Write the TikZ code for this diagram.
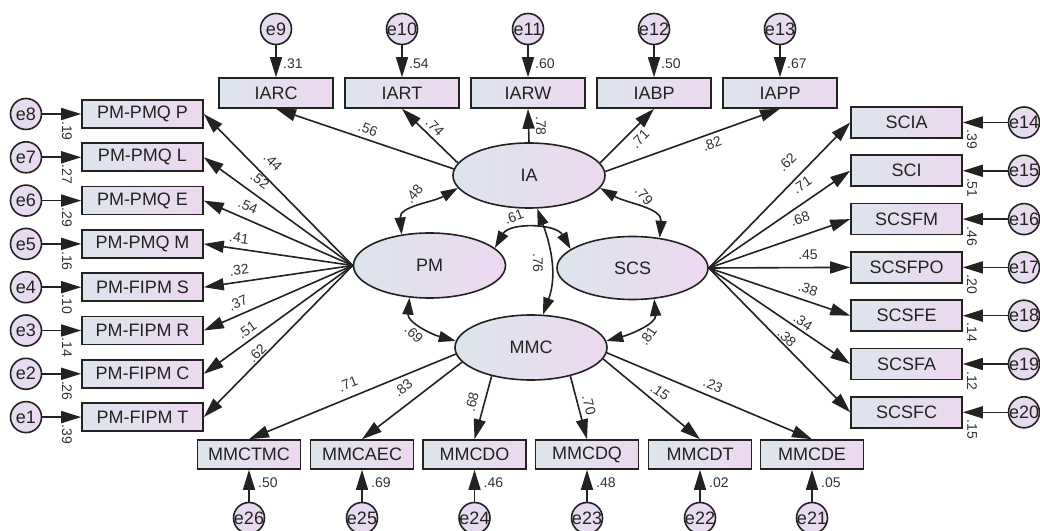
\documentclass[tikz,border=0pt]{standalone}
\usepackage{fontspec}
\setmainfont{Liberation Sans}
\usetikzlibrary{arrows.meta,shapes.geometric}

\definecolor{fillL}{HTML}{DDE5EC}
\definecolor{fillR}{HTML}{EDD8F0}
\definecolor{errL}{HTML}{E2DEEE}
\definecolor{errR}{HTML}{EDD8F1}
\definecolor{ink}{HTML}{222222}
\definecolor{numc}{HTML}{333333}

\tikzset{
  bigtext/.style={font=\fontsize{18}{21}\selectfont, text=ink},
  obs/.style={draw=ink, line width=1.6pt, left color=fillL, right color=fillR,
    inner sep=0pt, bigtext},
  obsT/.style={obs, minimum width=114pt, minimum height=30pt},
  obsL/.style={obs, minimum width=121pt, minimum height=28pt},
  obsR/.style={obs, minimum width=111pt, minimum height=31pt},
  obsB/.style={obs, minimum width=103pt, minimum height=29pt},
  lat/.style={ellipse, draw=ink, line width=1.6pt, left color=fillL, right color=fillR,
    minimum width=152pt, minimum height=65pt, inner sep=0pt, bigtext},
  err/.style={circle, draw=ink, line width=1.6pt, left color=errL, right color=errR,
    minimum size=31pt, inner sep=0pt},
  errtext/.style={bigtext, inner sep=0pt},
  arr/.style={draw=ink, line width=1.6pt, -{Triangle[length=20pt,width=12pt]}},
  cov/.style={draw=ink, line width=1.6pt,
    {Triangle[length=17pt,width=11pt]}-{Triangle[length=17pt,width=11pt]}},
  coef/.style={font=\fontsize{14}{16}\selectfont, text=numc, inner sep=0pt},
}

\begin{document}
\begin{tikzpicture}[x=1pt,y=1pt]
\useasboundingbox (0,0) rectangle (1040,530);
\fill[white] (0,0) rectangle (1040,530);
\clip (0,0) rectangle (1040,530);

% latent constructs
\node[lat] (IA)  at (529,354.5) {IA};
\node[lat] (PM)  at (429.5,264.5) {PM};
\node[lat, minimum width=151pt, minimum height=63pt] (SCS) at (632.5,262) {SCS};
\node[lat] (MMC) at (531,182.5) {MMC};

% IA indicators (top row) with their error terms
\foreach \name/\x/\e/\v in {IARC/276/9/.31, IART/402/10/.54, IARW/528/11/.60,
                            IABP/654/12/.50, IAPP/780/13/.67}{
  \node[obsT] (\name) at (\x,437) {\name};
  \node[err, label={[errtext]center:e\e}] (e\e) at (\x,501) {};
  \draw[arr] (e\e) -- (\name);
  \node[coef, anchor=west] (v\e) at (\x+7,466) {\v};
}

% PM indicators (left column)
\foreach \t/\e/\v [count=\k] in {PM-PMQ P/8/.19, PM-PMQ L/7/.27, PM-PMQ E/6/.29,
    PM-PMQ M/5/.16, PM-FIPM S/4/.10, PM-FIPM R/3/.14, PM-FIPM C/2/.26, PM-FIPM T/1/.39}{
  \pgfmathsetmacro\yy{416-43.3*(\k-1)}
  \node[obsL] (L\k) at (142.5,\yy) {\t};
  \node[err, label={[errtext]center:e\e}] (e\e) at (26,\yy) {};
  \draw[arr] (e\e) -- (L\k);
  \node[coef, rotate=-90] (v\e) at (67,\yy-17) {\v};
  \draw[arr] (PM.west) -- (L\k.east);
}

% SCS indicators (right column)
\foreach \t/\e/\v [count=\k] in {SCIA/14/.39, SCI/15/.51, SCSFM/16/.46, SCSFPO/17/.20,
    SCSFE/18/.14, SCSFA/19/.12, SCSFC/20/.15}{
  \pgfmathsetmacro\yy{407.5-48.3*(\k-1)}
  \node[obsR] (R\k) at (906.5,\yy) {\t};
  \node[err, label={[errtext]center:e\e}] (e\e) at (1024,\yy) {};
  \draw[arr] (e\e) -- (R\k);
  \node[coef, rotate=-90] (v\e) at (972,\yy-17) {\v};
  \draw[arr] (SCS.east) -- (R\k.west);
}

% MMC indicators (bottom row)
\foreach \t/\x/\e/\v [count=\k] in {MMCTMC/249/26/.50, MMCAEC/362/25/.69,
    MMCDO/474.5/24/.46, MMCDQ/587/23/.48, MMCDT/700/22/.02, MMCDE/812/21/.05}{
  \node[obsB] (B\k) at (\x,75.5) {\t};
  \node[err, label={[errtext]center:e\e}] (e\e) at (\x,12) {};
  \draw[arr] (e\e) -- (B\k);
  \node[coef, anchor=west] (v\e) at (\x+9,47) {\v};
}

% IA loadings
\draw[arr] (IA.175) -- (IARC.south);
\draw[arr] (IA.170) -- (IART.south);
\draw[arr] (IA.north) -- (IARW.south);
\draw[arr] (IA.10) -- (IABP.south);
\draw[arr] (IA.3) -- (IAPP.south);
\node[coef, rotate=-20] (c56) at (368,401) {.56};
\node[coef, rotate=-46] (c74) at (435,403) {.74};
\node[coef, rotate=-90] (c78) at (541,404) {.78};
\node[coef, rotate=46]  (c71) at (640,391) {.71};
\node[coef, rotate=20]  (c82) at (712,386) {.82};

% PM loadings
\node[coef, rotate=-45] (p1) at (273,368) {.44};
\node[coef, rotate=-36] (p2) at (260,350) {.52};
\node[coef, rotate=-23] (p3) at (248,324) {.54};
\node[coef, rotate=-8]  (p4) at (239,292) {.41};
\node[coef, rotate=8]   (p5) at (239,260) {.32};
\node[coef, rotate=24]  (p6) at (238,227) {.37};
\node[coef, rotate=36]  (p7) at (247,200) {.51};
\node[coef, rotate=45]  (p8) at (257,177) {.62};

% SCS loadings
\node[coef, rotate=45]  (s1) at (787,368) {.62};
\node[coef, rotate=34]  (s2) at (802,345) {.71};
\node[coef, rotate=19]  (s3) at (800,311) {.68};
\node[coef]             (s4) at (808,275) {.45};
\node[coef, rotate=-18] (s5) at (808,241) {.38};
\node[coef, rotate=-34] (s6) at (803,208) {.34};
\node[coef, rotate=-45] (s7) at (787,192) {.38};

% MMC loadings
\draw[arr] (MMC.185) -- (B1.north);
\draw[arr] (MMC.192) -- (B2.north);
\draw[arr] (MMC.216) -- (B3.north);
\draw[arr] (MMC.324) -- (B4.north);
\draw[arr] (MMC.351) -- (B5.north);
\draw[arr] (MMC.356) -- (B6.north);
\node[coef, rotate=22]  (m1) at (348,146) {.71};
\node[coef, rotate=40]  (m2) at (403,142) {.83};
\node[coef, rotate=76]  (m3) at (472,128) {.68};
\node[coef, rotate=-76] (m4) at (589,125) {.70};
\node[coef, rotate=-36] (m5) at (660,138) {.15};
\node[coef, rotate=-23] (m6) at (713,145) {.23};

% correlations between constructs
\draw[cov] (PM.132) to[out=95,in=210] (IA.190);
\draw[cov] (IA.350) to[out=-30,in=85] (SCS.48);
\draw[cov] (PM.238) to[out=-95,in=165] (MMC.175);
\draw[cov] (SCS.305) to[out=-85,in=15] (MMC.5);
\draw[cov] (PM.15) to[out=60,in=120] (SCS.163);
\draw[cov] (IA.284) to[out=-70,in=70] (MMC.70);
\node[coef, rotate=50]  (r48) at (414,336) {.48};
\node[coef, rotate=-50] (r79) at (644,334) {.79};
\node[coef, rotate=20]  (r61) at (514,313) {.61};
\node[coef, rotate=-90] (r76) at (538,267) {.76};
\node[coef, rotate=-45] (r69) at (414,196) {.69};
\node[coef, rotate=55]  (r81) at (648,194) {.81};
\end{tikzpicture}
\end{document}
